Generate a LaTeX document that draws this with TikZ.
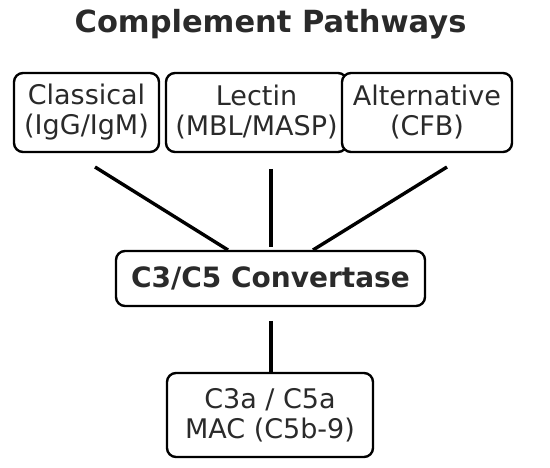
\documentclass[tikz,border=0pt]{standalone}
\usepackage{fontspec}
\setmainfont{DejaVu Sans}
\definecolor{txt}{HTML}{2A2A2A}
\begin{document}
\begin{tikzpicture}[x=1pt,y=-1pt,
  box/.style={draw=black, line width=2.4pt, rounded corners=9pt, fill=white, text=txt,
    align=center, inner sep=0pt, font=\fontsize{27}{30}\selectfont},
  conn/.style={draw=black, line width=3.4pt}]
\useasboundingbox (0,0) rectangle (550,468);
\node[text=txt, font=\fontsize{30.5}{34}\selectfont\bfseries] (title) at (270.5,24) {Complement Pathways};
\node[box, minimum width=145pt, minimum height=79pt] (classical) at (86.5,112.5) {Classical\\(IgG/IgM)};
\node[box, minimum width=181pt, minimum height=79pt] (lectin) at (256.5,112.5) {Lectin\\(MBL/MASP)};
\node[box, minimum width=170pt, minimum height=79pt] (alt) at (427,112.5) {Alternative\\(CFB)};
\node[box, minimum width=309pt, minimum height=55pt, font=\fontsize{28}{32}\selectfont\bfseries] (conv) at (270.5,278.5) {C3/C5 Convertase};
\node[box, minimum width=206pt, minimum height=84pt] (out) at (270,415) {C3a / C5a\\MAC (C5b-9)};
\coordinate (a1) at (95,167);
\coordinate (a2) at (228,250);
\coordinate (b1) at (271,169);
\coordinate (b2) at (271,247);
\coordinate (c1) at (447,167);
\coordinate (c2) at (313,250);
\coordinate (d1) at (271,321);
\coordinate (d2) at (271,372);
\draw[conn] (a1) -- (a2);
\draw[conn] (b1) -- (b2);
\draw[conn] (c1) -- (c2);
\draw[conn] (d1) -- (d2);
\end{tikzpicture}
\end{document}
